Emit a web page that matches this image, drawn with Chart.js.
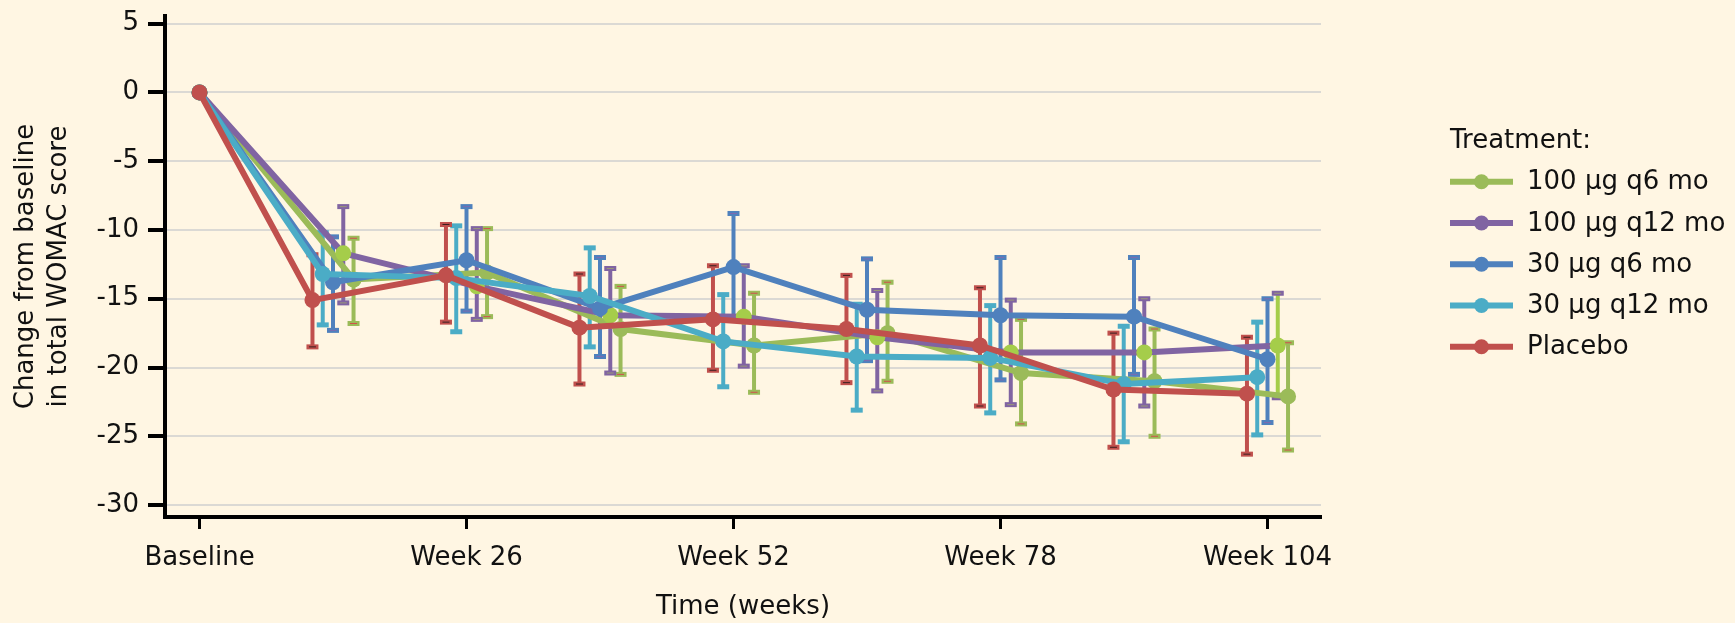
<!DOCTYPE html>
<html>
<head>
<meta charset="utf-8">
<script src="https://cdn.jsdelivr.net/npm/chart.js@4.4.1/dist/chart.umd.min.js"></script>
<style>
  html, body { margin: 0; padding: 0; background: #fff6e3; }
  #chart { display: block; }
</style>
</head>
<body>
<canvas id="chart" width="1735" height="623"></canvas>
<script>
// visit weeks and axis ticks
var weeks = [0, 13, 26, 39, 52, 65, 78, 91, 104];
var xTickValues = [0, 26, 52, 78, 104];
var xTickLabels = ['Baseline', 'Week 26', 'Week 52', 'Week 78', 'Week 104'];
var yTickValues = [-30, -25, -20, -15, -10, -5, 0, 5];
var seriesNames = ['100 μg q6 mo', '100 μg q12 mo', '30 μg q6 mo', '30 μg q12 mo', 'Placebo'];

// mean change from baseline, with lower / upper bounds of the error bars
var mean100q6 = [0, -13.6, -13.1, -17.2, -18.4, -17.5, -20.4, -21.0, -22.1];
var lo100q6   = [null, -16.8, -16.3, -20.5, -21.8, -21.0, -24.1, -25.0, -26.0];
var hi100q6   = [null, -10.6, -9.9, -14.1, -14.6, -13.8, -16.5, -17.2, -18.2];

var mean100q12 = [0, -11.7, -14.1, -16.2, -16.3, -17.8, -18.9, -18.9, -18.4];
var lo100q12   = [null, -15.3, -16.5, -20.4, -19.9, -21.7, -22.7, -22.8, -22.2];
var hi100q12   = [null, -8.3, -9.9, -12.8, -12.6, -14.4, -15.1, -15.0, -14.6];

var mean30q6 = [0, -13.8, -12.2, -15.7, -12.7, -15.8, -16.2, -16.3, -19.4];
var lo30q6   = [null, -17.3, -15.9, -19.2, -16.3, -19.5, -20.9, -20.5, -24.0];
var hi30q6   = [null, -10.5, -8.3, -12.0, -8.8, -12.1, -12.0, -12.0, -15.0];

var mean30q12 = [0, -13.2, -13.5, -14.8, -18.1, -19.2, -19.3, -21.2, -20.7];
var lo30q12   = [null, -16.9, -17.4, -18.5, -21.4, -23.1, -23.3, -25.4, -24.9];
var hi30q12   = [null, -10.2, -9.7, -11.3, -14.7, -15.4, -15.5, -17.0, -16.7];

var meanPlacebo = [0, -15.1, -13.3, -17.1, -16.5, -17.2, -18.4, -21.6, -21.9];
var loPlacebo   = [null, -18.5, -16.7, -21.2, -20.2, -21.1, -22.8, -25.8, -26.3];
var hiPlacebo   = [null, -11.8, -9.6, -13.2, -12.6, -13.3, -14.2, -17.5, -17.8];

var means = [mean100q6, mean100q12, mean30q6, mean30q12, meanPlacebo];
var lows = [lo100q6, lo100q12, lo30q6, lo30q12, loPlacebo];
var highs = [hi100q6, hi100q12, hi30q6, hi30q12, hiPlacebo];

// styling
var lineColors = ['#9bbb59', '#8064a2', '#4f81bd', '#4bacc6', '#c0504d'];
var pointColors = ['#9bbb59', '#a5cd4a', '#4f81bd', '#4bacc6', '#c0504d'];
var capInner = ['#d0504d', '#9a9878', '#7d6bb0', null, '#3a2020'];
var dodge = [2, 1, 0, -1, -2];   // horizontal shift in weeks so bars don't overlap
var drawOrder = [4, 3, 2, 1, 0];
var BG = '#fff6e3';
var FONT = "'DejaVu Sans', Verdana, sans-serif";

Chart.defaults.font.family = FONT;
Chart.defaults.font.size = 26;
Chart.defaults.color = '#111';

var datasets = seriesNames.map(function (name, s) {
    return {
        label: name,
        data: weeks.map(function (w, i) {
            return { x: w === 0 ? 0 : w + dodge[s], y: means[s][i] };
        }),
        errLo: lows[s],
        errHi: highs[s],
        stemColors: weeks.map(function (w, i) {
            // the 100 µg q12 bar at week 104 is drawn in the light marker green
            return (s === 1 && i === weeks.length - 1) ? pointColors[1] : lineColors[s];
        }),
        borderColor: lineColors[s],
        backgroundColor: pointColors[s],
        pointBackgroundColor: pointColors[s],
        pointBorderColor: pointColors[s],
        pointBorderWidth: 0,
        pointRadius: 8,
        borderWidth: 6,
        tension: 0,
        order: drawOrder[s],
        capInner: capInner[s]
    };
});

// paints the canvas background
var backgroundPlugin = {
    id: 'bg',
    beforeDraw: function (chart) {
        var ctx = chart.ctx;
        ctx.save();
        ctx.fillStyle = BG;
        ctx.fillRect(0, 0, chart.width, chart.height);
        ctx.restore();
    }
};

// vertical error bars with caps, drawn under the lines
var errorBarPlugin = {
    id: 'errorBars',
    beforeDatasetsDraw: function (chart) {
        var ctx = chart.ctx;
        var yScale = chart.scales.y;
        ctx.save();
        chart.data.datasets.forEach(function (ds, di) {
            var meta = chart.getDatasetMeta(di);
            meta.data.forEach(function (pt, i) {
                if (ds.errLo[i] == null) return;
                var x = pt.x;
                var yTop = yScale.getPixelForValue(ds.errHi[i]);
                var yBot = yScale.getPixelForValue(ds.errLo[i]);
                ctx.strokeStyle = ds.stemColors[i];
                ctx.lineWidth = 4;
                ctx.beginPath();
                ctx.moveTo(x, yTop);
                ctx.lineTo(x, yBot);
                ctx.stroke();
                [yTop, yBot].forEach(function (yc) {
                    ctx.fillStyle = ds.borderColor;
                    ctx.fillRect(x - 6, yc - 2.5, 12, 5);
                    if (ds.capInner) {
                        ctx.fillStyle = ds.capInner;
                        ctx.fillRect(x - 3.5, yc - 0.5, 7, 1);
                    }
                });
            });
        });
        ctx.restore();
    }
};

// legend on the right: line + dot swatches
var legendPlugin = {
    id: 'sideLegend',
    afterDraw: function (chart) {
        var ctx = chart.ctx;
        var x0 = 1450, y0 = 181.7, step = 41.25;
        ctx.save();
        ctx.font = '26px ' + FONT;
        ctx.fillStyle = '#111';
        ctx.textBaseline = 'alphabetic';
        ctx.textAlign = 'left';
        ctx.fillText('Treatment:', x0, 148);
        chart.data.datasets.forEach(function (ds, s) {
            var y = y0 + s * step;
            ctx.strokeStyle = lineColors[s];
            ctx.lineWidth = 6;
            ctx.beginPath();
            ctx.moveTo(x0, y);
            ctx.lineTo(x0 + 63, y);
            ctx.stroke();
            ctx.fillStyle = lineColors[s];
            ctx.beginPath();
            ctx.arc(x0 + 31.5, y, 7.5, 0, Math.PI * 2);
            ctx.fill();
            ctx.fillStyle = '#111';
            ctx.textBaseline = 'middle';
            ctx.fillText(ds.label, x0 + 77, y + 1);
        });
        ctx.restore();
    }
};

var chart = new Chart(document.getElementById('chart'), {
    type: 'line',
    data: { datasets: datasets },
    options: {
        responsive: false,
        animation: false,
        devicePixelRatio: 1,
        layout: { padding: { left: 0, top: 16, right: 414, bottom: 0 } },
        plugins: {
            legend: { display: false },
            tooltip: { enabled: false }
        },
        scales: {
            x: {
                type: 'linear',
                min: -3.36,
                max: 109.21,
                afterFit: function (scale) {
                    scale.height = 106;
                    scale.paddingLeft = 0;
                    scale.paddingRight = 0;
                },
                afterBuildTicks: function (scale) {
                    scale.ticks = xTickValues.map(function (v) { return { value: v }; });
                },
                ticks: {
                    padding: 14,
                    maxRotation: 0,
                    autoSkip: false,
                    callback: function (v) {
                        var k = xTickValues.indexOf(v);
                        return k >= 0 ? xTickLabels[k] : '';
                    }
                },
                grid: {
                    drawOnChartArea: false,
                    tickLength: 12,
                    tickWidth: 3,
                    tickColor: '#000'
                },
                border: { color: '#000', width: 4 },
                title: {
                    display: true,
                    text: 'Time (weeks)',
                    font: { size: 26, lineHeight: 1.2 },
                    padding: { top: 0, bottom: 0 }
                }
            },
            y: {
                min: -30.87,
                max: 5.56,
                afterFit: function (scale) {
                    scale.width = 165;
                    scale.paddingTop = 0;
                    scale.paddingBottom = 0;
                },
                afterBuildTicks: function (scale) {
                    scale.ticks = yTickValues.map(function (v) { return { value: v }; });
                },
                ticks: { padding: 9 },
                grid: {
                    color: '#dbd9d4',
                    lineWidth: 2,
                    tickLength: 17,
                    tickWidth: 4,
                    tickColor: '#000'
                },
                border: { color: '#000', width: 4 },
                title: {
                    display: true,
                    text: ['Change from baseline', 'in total WOMAC score'],
                    font: { size: 26, lineHeight: 1.27 },
                    padding: { top: 10, bottom: 0 }
                }
            }
        }
    },
    plugins: [backgroundPlugin, errorBarPlugin, legendPlugin]
});
</script>
</body>
</html>
